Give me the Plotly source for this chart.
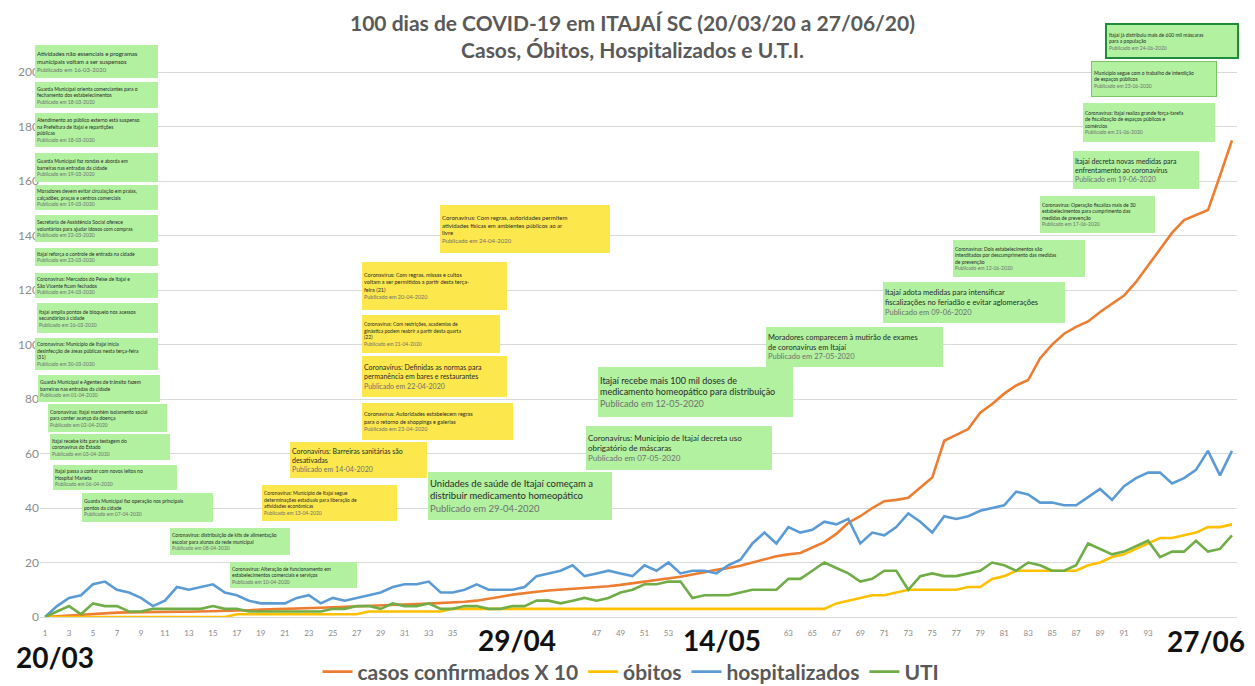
import plotly.graph_objects as go

# ---------------- data ----------------
days = list(range(1, 101))

casos_x10 = [0, 0.3, 0.6, 0.9, 1.2, 1.5, 1.6, 1.7, 1.8, 1.8,
             1.8, 1.9, 1.9, 2.0, 2.0, 2.1, 2.3, 2.5, 2.7, 2.8,
             3.0, 3.1, 3.3, 3.4, 3.6, 3.8, 4.0, 4.2, 4.3, 4.5,
             4.6, 4.8, 4.9, 5.1, 5.3, 5.6, 6.0, 6.6, 7.4, 8.2,
             8.8, 9.3, 9.7, 10.0, 10.3, 10.7, 11.0, 11.3, 11.8, 12.4,
             13.0, 13.5, 14.0, 14.8, 15.6, 16.5, 17.3, 18.0, 18.8, 20.0,
             21.2, 22.3, 23.0, 23.5, 25.5, 27.5, 30.5, 34.6, 37.0, 40.0,
             42.5, 43.0, 43.8, 47.5, 51.2, 64.7, 67.0, 69.0, 75.0, 78.2,
             82.0, 85.0, 87.0, 95.0, 100.0, 104.0, 106.5, 108.5, 112.0, 115.0,
             118.0, 123.0, 129.0, 135.0, 141.0, 145.7, 147.5, 149.4, 162.0, 175.0]

obitos = [0] * 16 + [1] * 11 + [2] * 7 + [3] * 32 + \
         [5, 6, 7, 8, 8, 9, 10, 10, 10, 10,
          10, 11, 11, 14, 15, 17, 17, 17, 17, 17,
          17, 19, 20, 22, 23, 25, 27, 29, 29, 30,
          31, 33, 33, 34]

hospitalizados = [0, 4, 7, 8, 12, 13, 10, 9, 7, 4,
                  6, 11, 10, 11, 12, 9, 8, 6, 5, 5,
                  5, 7, 8, 5, 7, 6, 7, 8, 9, 11,
                  12, 12, 13, 9, 9, 10, 12, 10, 10, 10,
                  11, 15, 16, 17, 19, 15, 16, 17, 16, 15,
                  19, 17, 20, 16, 17, 17, 16, 19, 21, 27,
                  31, 27, 33, 31, 32, 35, 34, 36, 27, 31,
                  30, 33, 38, 35, 31, 37, 36, 37, 39, 40,
                  41, 46, 45, 42, 42, 41, 41, 44, 47, 43,
                  48, 51, 53, 53, 49, 51, 54, 61, 52, 61]

uti = [0, 2, 4, 1, 5, 4, 4, 2, 2, 3,
       3, 3, 3, 3, 4, 3, 3, 2, 2, 2,
       2, 2, 2, 2, 3, 3, 4, 4, 3, 5,
       4, 4, 5, 3, 3, 4, 4, 3, 3, 4,
       4, 6, 6, 5, 6, 7, 6, 7, 9, 10,
       12, 12, 13, 13, 7, 8, 8, 8, 9, 10,
       10, 10, 14, 14, 17, 20, 18, 16, 13, 14,
       17, 17, 10, 15, 16, 15, 15, 16, 17, 20,
       19, 17, 20, 19, 17, 17, 19, 27, 25, 23,
       24, 26, 28, 22, 24, 24, 28, 24, 25, 30]

series_names = ["casos confirmados X 10", "óbitos", "hospitalizados", "UTI"]
series_colors = ["#ed7d31", "#ffc000", "#5b9bd5", "#70ad47"]

tick_days = [d for d in range(1, 94, 2) if not (37 <= d <= 45 or 55 <= d <= 61)]
y_ticks = list(range(0, 201, 20))

date_labels = ["20/03", "29/04", "14/05", "27/06"]

title_lines = ["100 dias de COVID-19 em ITAJAÍ SC (20/03/20 a 27/06/20)",
               "Casos, Óbitos, Hospitalizados e U.T.I."]

news = [
    (["Atividades não essenciais e programas", "municipais voltam a ser suspensos"], "16-03-2020"),
    (["Guarda Municipal orienta comerciantes para o", "fechamento dos estabelecimentos"], "18-03-2020"),
    (["Atendimento ao público externo está suspenso", "na Prefeitura de Itajaí e repartições", "públicas"], "18-03-2020"),
    (["Guarda Municipal faz rondas e aborda em", "barreiras nas entradas da cidade"], "19-03-2020"),
    (["Moradores devem evitar circulação em praias,", "calçadões, praças e centros comerciais"], "19-03-2020"),
    (["Secretaria de Assistência Social oferece", "voluntários para ajudar idosos com compras"], "22-03-2020"),
    (["Itajaí reforça o controle de entrada na cidade"], "23-03-2020"),
    (["Coronavírus: Mercados do Peixe de Itajaí e", "São Vicente ficam fechados"], "24-03-2020"),
    (["Itajaí amplia pontos de bloqueio nos acessos", "secundários à cidade"], "26-03-2020"),
    (["Coronavírus: Município de Itajaí inicia", "desinfecção de áreas públicas nesta terça-feira", "(31)"], "30-03-2020"),
    (["Guarda Municipal e Agentes de trânsito fazem", "barreiras nas entradas da cidade"], "01-04-2020"),
    (["Coronavírus: Itajaí mantém isolamento social", "para conter avanço da doença"], "02-04-2020"),
    (["Itajaí recebe kits para testagem do", "coronavírus do Estado"], "03-04-2020"),
    (["Itajaí passa a contar com novos leitos no", "Hospital Marieta"], "06-04-2020"),
    (["Guarda Municipal faz operação nos principais", "pontos da cidade"], "07-04-2020"),
    (["Coronavírus: distribuição de kits de alimentação", "escolar para alunos da rede municipal"], "08-04-2020"),
    (["Coronavírus: Alteração de funcionamento em", "estabelecimentos comerciais e serviços"], "10-04-2020"),
    (["Coronavírus: Município de Itajaí segue", "determinações estaduais para liberação de", "atividades econômicas"], "13-04-2020"),
    (["Coronavírus: Barreiras sanitárias são", "desativadas"], "14-04-2020"),
    (["Coronavírus: Autoridades estabelecem regras", "para o retorno de shoppings e galerias"], "23-04-2020"),
    (["Coronavírus: Definidas as normas para", "permanência em bares e restaurantes"], "22-04-2020"),
    (["Coronavírus: Com restrições, academias de", "ginástica podem reabrir a partir desta quarta", "(22)"], "21-04-2020"),
    (["Coronavírus: Com regras, missas e cultos", "voltam a ser permitidos a partir desta terça-", "feira (21)"], "20-04-2020"),
    (["Coronavírus: Com regras, autoridades permitem", "atividades físicas em ambientes públicos ao ar", "livre"], "24-04-2020"),
    (["Unidades de saúde de Itajaí começam a", "distribuir medicamento homeopático"], "29-04-2020"),
    (["Coronavírus: Município de Itajaí decreta uso", "obrigatório de máscaras"], "07-05-2020"),
    (["Itajaí recebe mais 100 mil doses de", "medicamento homeopático para distribuição"], "12-05-2020"),
    (["Moradores comparecem à mutirão de exames", "de coronavírus em Itajaí"], "27-05-2020"),
    (["Itajaí adota medidas para intensificar", "fiscalizações no feriadão e evitar aglomerações"], "09-06-2020"),
    (["Coronavírus: Dois estabelecimentos são", "interditados por descumprimento das medidas", "de prevenção"], "12-06-2020"),
    (["Coronavírus: Operação fiscaliza mais de 30", "estabelecimentos para cumprimento das", "medidas de prevenção"], "17-06-2020"),
    (["Itajaí decreta novas medidas para", "enfrentamento ao coronavírus"], "19-06-2020"),
    (["Coronavírus: Itajaí realiza grande força-tarefa", "de fiscalização de espaços públicos e", "comércios"], "21-06-2020"),
    (["Município segue com o trabalho de interdição", "de espaços públicos"], "23-06-2020"),
    (["Itajaí já distribuiu mais de 600 mil máscaras", "para a população"], "24-06-2020"),
]

# ---------------- layout geometry (pixels) ----------------
WIDTH, HEIGHT = 1255, 686
L, R, T, B = 40, 1237, 45, 617
PW, PH = R - L, B - T

# box geometry: (x0, y0, x1, y1, font size, style)
box_geo = [
    (35, 45, 158, 78, 6, "g"), (35, 82, 158, 108, 5, "g"), (35, 113, 158, 147, 5, "g"),
    (35, 153, 158, 182, 5, "g"), (35, 185, 158, 210, 5, "g"), (35, 215, 158, 242, 5, "g"),
    (35, 248, 158, 266, 5, "g"), (35, 273, 158, 298, 5, "g"), (37, 303, 158, 333, 5, "g"),
    (35, 338, 158, 370, 5, "g"), (38, 375, 160, 402, 5, "g"), (48, 404, 167, 432, 5, "g"),
    (50, 434, 170, 460, 5, "g"), (53, 465, 177, 490, 5, "g"), (82, 493, 213, 522, 5, "g"),
    (170, 528, 290, 555, 5, "g"), (230, 562, 357, 588, 5, "g"),
    (262, 485, 397, 521, 5, "y"), (290, 442, 427, 478, 7, "y"), (362, 403, 513, 440, 5.5, "y"),
    (362, 356, 507, 397, 7, "y"), (362, 315, 500, 353, 5, "y"), (362, 262, 507, 310, 5.5, "y"),
    (440, 205, 610, 253, 6, "y"),
    (428, 472, 612, 520, 9.5, "g"), (586, 426, 772, 470, 8, "g"), (598, 367, 793, 417, 9, "g"),
    (766, 327, 943, 367, 7.5, "g"), (883, 282, 1065, 323, 7.5, "g"), (953, 240, 1085, 277, 5, "g"),
    (1040, 196, 1155, 233, 5, "g"), (1073, 151, 1199, 189, 7, "g"), (1083, 103, 1215, 142, 5, "g"),
    (1091, 61, 1217, 97, 5, "g1"), (1105, 23, 1239, 59, 5, "g2"),
]

FILL = {"g": "#b1f1a0", "g1": "#b1f1a0", "g2": "#b1f1a0", "y": "#fce84c"}
BORDER = {"g": None, "g1": ("#7cc462", 1), "g2": ("#1f8c3b", 2), "y": None}


def px_x(px):
    return (px - L) / PW


def px_y(py):
    return (B - py) / PH


annotations = []
for (lines, date), (x0, y0, x1, y1, fs, st) in zip(news, box_geo):
    pad = 2
    bd = BORDER[st]
    bw = bd[1] if bd else 0
    bc = bd[0] if bd else FILL[st]
    txt = "<br>".join(lines) + "<br><span style='color:#707070'>Publicado em " + date + "</span>"
    annotations.append(dict(
        xref="paper", yref="paper", x=px_x(x0), y=px_y(y0),
        xanchor="left", yanchor="top", showarrow=False, align="left", valign="middle",
        text=txt, bgcolor=FILL[st], bordercolor=bc, borderwidth=bw, borderpad=pad,
        width=max(10, x1 - x0 - 2 * pad - 2 * bw), height=max(10, y1 - y0 - 2 * pad - 2 * bw),
        font=dict(family="Lato", size=fs, color="#2a2a2a"),
    ))

date_pos = [(55, 657), (517, 640), (722, 640), (1206, 641)]
for lbl, (cx, cy) in zip(date_labels, date_pos):
    annotations.append(dict(
        xref="paper", yref="paper", x=px_x(cx), y=px_y(cy), xanchor="center", yanchor="middle",
        showarrow=False, text="<b>" + lbl + "</b>",
        font=dict(family="Lato", size=28, color="#111111"),
    ))

# title as annotation (two lines)
annotations.append(dict(
    xref="paper", yref="paper", x=px_x(632), y=px_y(36), xanchor="center", yanchor="middle",
    showarrow=False, text="<b>" + "<br>".join(title_lines) + "</b>",
    font=dict(family="Lato", size=21, color="#595959"),
))

fig = go.Figure()
for name, vals, col in zip(series_names, [casos_x10, obitos, hospitalizados, uti], series_colors):
    fig.add_trace(go.Scatter(x=days, y=vals, name=name, mode="lines",
                             line=dict(color=col, width=2.6)))

fig.update_layout(
    width=WIDTH, height=HEIGHT,
    margin=dict(l=L, r=WIDTH - R, t=T, b=HEIGHT - B, autoexpand=False),
    paper_bgcolor="white", plot_bgcolor="white",
    font=dict(family="Lato", color="#595959"),
    xaxis=dict(range=[0.58, 100.42], tickmode="array", tickvals=tick_days,
               ticktext=[str(d) for d in tick_days], showgrid=False, zeroline=False,
               showline=False, ticks="", ticklabelstandoff=10,
               tickfont=dict(size=8, color="#8c8c8c")),
    yaxis=dict(range=[0, 210], tickmode="array", tickvals=y_ticks, showgrid=True,
               gridcolor="#d9d9d9", gridwidth=1, zeroline=True, zerolinecolor="#d9d9d9",
               zerolinewidth=1, showline=False, ticks="",
               tickfont=dict(size=12, color="#8c8c8c")),
    legend=dict(orientation="h", x=px_x(631), xanchor="center", y=px_y(672), yanchor="middle",
                font=dict(family="Lato", size=21, color="#595959", weight="bold"),
                itemwidth=30, bgcolor="rgba(0,0,0,0)"),
    annotations=annotations,
)

fig.write_html(
    "out.html",
    config={"displayModeBar": False},
    post_script="document.body.style.margin='0';document.body.style.padding='0';",
)
